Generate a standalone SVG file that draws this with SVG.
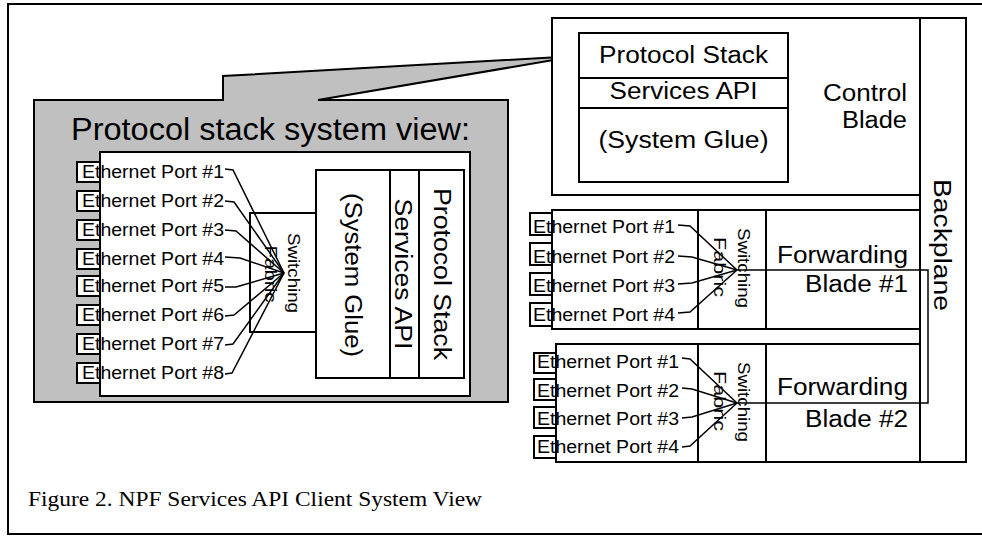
<svg xmlns="http://www.w3.org/2000/svg" width="982" height="536" viewBox="0 0 982 536">
<style>
.frame{fill:#fff;stroke:#000;stroke-width:2}
.box{fill:#fff;stroke:#000;stroke-width:2}
.ln{fill:none;stroke:#000;stroke-width:2}
.cn{fill:none;stroke:#000;stroke-width:1.5}
.t{font-family:"Liberation Sans",Arial,sans-serif;fill:#000}
.port{font-size:18px}
.big{font-size:23px}
.sw{font-size:17px}
.cap{font-family:"Liberation Serif","Times New Roman",serif;font-size:21px;fill:#000}
</style>
<rect class="frame" x="8" y="4" width="990" height="530"/>

<g id="callout">
<polygon points="34,100 223,100 223,76 577,56 318,100 508,100 508,402 34,402" fill="#c0c0c0" stroke="#000" stroke-width="2" stroke-linejoin="miter"/>
<text class="t" x="71" y="140" font-size="31" textLength="399" lengthAdjust="spacingAndGlyphs">Protocol stack system view:</text>
</g>

<g id="sysview">
<g id="sv-portboxes">
<rect class="box" x="77" y="162" width="30" height="20"/>
<rect class="box" x="77" y="191" width="30" height="20"/>
<rect class="box" x="77" y="220" width="30" height="20"/>
<rect class="box" x="77" y="249" width="30" height="20"/>
<rect class="box" x="77" y="276" width="30" height="20"/>
<rect class="box" x="77" y="305" width="30" height="20"/>
<rect class="box" x="77" y="334" width="30" height="20"/>
<rect class="box" x="77" y="363" width="30" height="20"/>
</g>
<rect class="box" x="100" y="152" width="370" height="244"/>
<g id="sv-fabric">
<rect class="box" x="250" y="213" width="66" height="119"/>
<text class="t sw" transform="translate(288,273) rotate(90)" text-anchor="middle" textLength="80" lengthAdjust="spacingAndGlyphs">Switching</text>
<text class="t sw" transform="translate(265,274) rotate(90)" text-anchor="middle" textLength="57" lengthAdjust="spacingAndGlyphs">Fabric</text>
</g>
<g id="sv-stack">
<rect class="box" x="316" y="170" width="148" height="208"/>
<line class="ln" x1="390" y1="170" x2="390" y2="378"/>
<line class="ln" x1="419" y1="170" x2="419" y2="378"/>
<text class="t big" transform="translate(345,275) rotate(90)" text-anchor="middle" textLength="164" lengthAdjust="spacingAndGlyphs">(System Glue)</text>
<text class="t big" transform="translate(395,274) rotate(90)" text-anchor="middle" textLength="151" lengthAdjust="spacingAndGlyphs">Services API</text>
<text class="t big" transform="translate(434,274) rotate(90)" text-anchor="middle" textLength="172" lengthAdjust="spacingAndGlyphs">Protocol Stack</text>
</g>
<g id="sv-ports">
<text class="t port" x="82" y="178" textLength="142" lengthAdjust="spacingAndGlyphs">Ethernet Port #1</text>
<text class="t port" x="82" y="207" textLength="142" lengthAdjust="spacingAndGlyphs">Ethernet Port #2</text>
<text class="t port" x="82" y="236" textLength="142" lengthAdjust="spacingAndGlyphs">Ethernet Port #3</text>
<text class="t port" x="82" y="265" textLength="142" lengthAdjust="spacingAndGlyphs">Ethernet Port #4</text>
<text class="t port" x="82" y="292" textLength="142" lengthAdjust="spacingAndGlyphs">Ethernet Port #5</text>
<text class="t port" x="82" y="321" textLength="142" lengthAdjust="spacingAndGlyphs">Ethernet Port #6</text>
<text class="t port" x="82" y="350" textLength="142" lengthAdjust="spacingAndGlyphs">Ethernet Port #7</text>
<text class="t port" x="82" y="379" textLength="142" lengthAdjust="spacingAndGlyphs">Ethernet Port #8</text>
</g>
</g>

<g id="control-blade">
<rect class="box" x="552" y="18" width="368" height="177"/>
<rect class="box" x="579" y="33" width="209" height="149"/>
<line class="ln" x1="579" y1="78" x2="788" y2="78"/>
<line class="ln" x1="579" y1="108" x2="788" y2="108"/>
<text class="t big" x="683.5" y="63" text-anchor="middle" textLength="169" lengthAdjust="spacingAndGlyphs">Protocol Stack</text>
<text class="t big" x="683.5" y="99" text-anchor="middle" textLength="148" lengthAdjust="spacingAndGlyphs">Services API</text>
<text class="t big" x="683.5" y="148" text-anchor="middle" textLength="170" lengthAdjust="spacingAndGlyphs">(System Glue)</text>
<text class="t big" x="907" y="101" text-anchor="end" textLength="84" lengthAdjust="spacingAndGlyphs">Control</text>
<text class="t big" x="907" y="128" text-anchor="end" textLength="65" lengthAdjust="spacingAndGlyphs">Blade</text>
</g>

<g id="backplane">
<rect class="box" x="920" y="18" width="46" height="444"/>
<text class="t big" transform="translate(934,245) rotate(90)" text-anchor="middle" textLength="132" lengthAdjust="spacingAndGlyphs">Backplane</text>
</g>

<g id="fwd-blade-1">
<rect class="box" x="530" y="213" width="24" height="22"/>
<rect class="box" x="530" y="243" width="24" height="22"/>
<rect class="box" x="530" y="273" width="24" height="22"/>
<rect class="box" x="530" y="303" width="24" height="23"/>
<rect class="box" x="552" y="210" width="368" height="119"/>
<line class="ln" x1="698" y1="210" x2="698" y2="329"/>
<line class="ln" x1="766" y1="210" x2="766" y2="329"/>
<text class="t sw" transform="translate(738,268) rotate(90)" text-anchor="middle" textLength="80" lengthAdjust="spacingAndGlyphs">Switching</text>
<text class="t sw" transform="translate(714,267) rotate(90)" text-anchor="middle" textLength="60" lengthAdjust="spacingAndGlyphs">Fabric</text>
<text class="t big" x="908" y="263" text-anchor="end" textLength="131" lengthAdjust="spacingAndGlyphs">Forwarding</text>
<text class="t big" x="908" y="292" text-anchor="end" textLength="103" lengthAdjust="spacingAndGlyphs">Blade #1</text>
<text class="t port" x="533" y="233" textLength="142" lengthAdjust="spacingAndGlyphs">Ethernet Port #1</text>
<text class="t port" x="533" y="263" textLength="142" lengthAdjust="spacingAndGlyphs">Ethernet Port #2</text>
<text class="t port" x="533" y="292" textLength="142" lengthAdjust="spacingAndGlyphs">Ethernet Port #3</text>
<text class="t port" x="533" y="321" textLength="142" lengthAdjust="spacingAndGlyphs">Ethernet Port #4</text>
</g>

<g id="fwd-blade-2">
<rect class="box" x="534" y="353" width="24" height="20"/>
<rect class="box" x="534" y="379" width="24" height="21"/>
<rect class="box" x="534" y="407" width="24" height="21"/>
<rect class="box" x="534" y="436" width="24" height="22"/>
<rect class="box" x="556" y="344" width="364" height="118"/>
<line class="ln" x1="698" y1="344" x2="698" y2="462"/>
<line class="ln" x1="766" y1="344" x2="766" y2="462"/>
<text class="t sw" transform="translate(738,402) rotate(90)" text-anchor="middle" textLength="80" lengthAdjust="spacingAndGlyphs">Switching</text>
<text class="t sw" transform="translate(714,401) rotate(90)" text-anchor="middle" textLength="60" lengthAdjust="spacingAndGlyphs">Fabric</text>
<text class="t big" x="908" y="395" text-anchor="end" textLength="131" lengthAdjust="spacingAndGlyphs">Forwarding</text>
<text class="t big" x="908" y="427" text-anchor="end" textLength="103" lengthAdjust="spacingAndGlyphs">Blade #2</text>
<text class="t port" x="537" y="368" textLength="142" lengthAdjust="spacingAndGlyphs">Ethernet Port #1</text>
<text class="t port" x="537" y="397" textLength="142" lengthAdjust="spacingAndGlyphs">Ethernet Port #2</text>
<text class="t port" x="537" y="425" textLength="142" lengthAdjust="spacingAndGlyphs">Ethernet Port #3</text>
<text class="t port" x="537" y="453" textLength="142" lengthAdjust="spacingAndGlyphs">Ethernet Port #4</text>
</g>

<g id="connectors">
<polyline class="cn" points="225,169 233,170 284,273"/>
<polyline class="cn" points="225,201 234,202 284,273"/>
<polyline class="cn" points="225,230 236,231 284,273"/>
<polyline class="cn" points="225,257 240,258 284,273"/>
<polyline class="cn" points="225,287 236,287 284,273"/>
<polyline class="cn" points="225,316 234,315 284,273"/>
<polyline class="cn" points="225,345 233,344 284,273"/>
<polyline class="cn" points="225,374 232,373 284,273"/>
<polyline class="cn" points="678,225 690,226 737,270"/>
<polyline class="cn" points="678,256 692,257 737,270"/>
<polyline class="cn" points="678,284 692,283 737,270"/>
<polyline class="cn" points="678,313 690,312 737,270"/>
<polyline class="cn" points="682,358 690,359 737,403"/>
<polyline class="cn" points="682,388 692,389 737,403"/>
<polyline class="cn" points="682,418 692,417 737,403"/>
<polyline class="cn" points="682,447 690,446 737,403"/>
<path class="cn" d="M737,270 H928 V403 H737"/>
</g>

<text class="cap" x="28" y="506" textLength="454" lengthAdjust="spacingAndGlyphs">Figure 2. NPF Services API Client System View</text>
</svg>
